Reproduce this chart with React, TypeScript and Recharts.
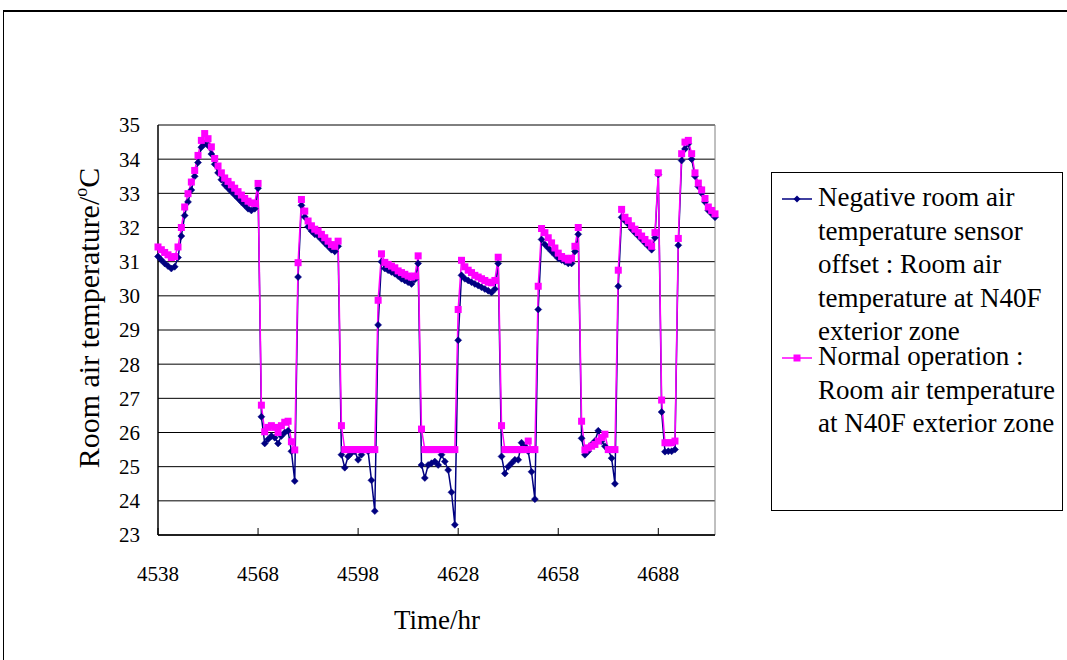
import React from 'react';
import { LineChart, Line, XAxis, YAxis, CartesianGrid, ReferenceLine, Label } from 'recharts';

const FONT = '"Liberation Serif", "DejaVu Serif", serif';

// hourly readings, first reading at hour 4538
const startHour = 4538;

const normalOperation = [
  31.43, 31.35, 31.27, 31.2, 31.12, 31.15, 31.43, 32.0, 32.6, 32.99,
  33.33, 33.67, 34.11, 34.55, 34.75, 34.6, 34.36, 34.02, 33.8, 33.6,
  33.45, 33.35, 33.25, 33.15, 33.05, 32.95, 32.85, 32.77, 32.72, 32.7,
  33.29, 26.8, 26.02, 26.15, 26.2, 26.15, 26.0, 26.2, 26.3, 26.33,
  25.73, 25.49, 30.97, 32.82, 32.48, 32.19, 32.05, 31.95, 31.9, 31.8,
  31.7, 31.6, 31.5, 31.45, 31.6, 26.2, 25.5, 25.5, 25.5, 25.5,
  25.5, 25.5, 25.5, 25.5, 25.5, 25.5, 29.87, 31.23, 30.98, 30.92,
  30.87, 30.82, 30.73, 30.68, 30.63, 30.58, 30.55, 30.58, 31.17, 26.1,
  25.5, 25.5, 25.5, 25.5, 25.5, 25.5, 25.5, 25.5, 25.5, 25.5,
  29.6, 31.04, 30.85, 30.75, 30.68, 30.6, 30.55, 30.5, 30.45, 30.4,
  30.38, 30.45, 31.13, 26.2, 25.5, 25.5, 25.5, 25.5, 25.5, 25.5,
  25.5, 25.75, 25.5, 25.5, 30.28, 31.97, 31.85, 31.7, 31.55, 31.4,
  31.25, 31.15, 31.1, 31.05, 31.1, 31.45, 32.0, 26.33, 25.49, 25.55,
  25.6, 25.65, 25.75, 25.85, 25.95, 25.5, 25.5, 25.5, 30.75, 32.53,
  32.3, 32.2, 32.05, 31.95, 31.85, 31.75, 31.65, 31.55, 31.45, 31.85,
  33.6, 26.95, 25.7, 25.7, 25.7, 25.75, 31.68, 34.16, 34.5, 34.55,
  34.16, 33.6, 33.3, 33.1, 32.85, 32.6, 32.5, 32.4,
];

const negativeOffset = [
  31.15, 31.05, 30.95, 30.87, 30.8, 30.85, 31.12, 31.75, 32.35, 32.75,
  33.1, 33.5, 33.9, 34.35, 34.45, 34.4, 34.15, 33.85, 33.6, 33.4,
  33.25, 33.15, 33.05, 32.95, 32.85, 32.75, 32.65, 32.55, 32.5, 32.55,
  33.15, 26.46, 25.68, 25.8, 25.9, 25.85, 25.68, 25.9, 26.0, 26.05,
  25.45, 24.58, 30.55, 32.65, 32.31, 32.02, 31.9, 31.8, 31.75, 31.65,
  31.55, 31.45, 31.35, 31.3, 31.45, 25.35, 24.97, 25.3, 25.4, 25.45,
  25.2, 25.35, 25.5, 25.45, 24.6, 23.7, 29.15, 31.0, 30.8, 30.75,
  30.7, 30.65, 30.58, 30.5, 30.45, 30.4, 30.35, 30.48, 30.95, 25.05,
  24.67, 25.05, 25.1, 25.15, 25.05, 25.35, 25.15, 24.9, 24.25, 23.3,
  28.7, 30.6, 30.5, 30.45, 30.4, 30.35, 30.3, 30.25, 30.2, 30.15,
  30.1, 30.2, 30.95, 25.3, 24.8, 25.0, 25.1, 25.2, 25.2, 25.7,
  25.6, 25.45, 24.85, 24.05, 29.6, 31.65, 31.5, 31.4, 31.3, 31.2,
  31.1, 31.05, 31.0, 30.95, 30.95, 31.3, 31.8, 25.83, 25.35, 25.45,
  25.65, 25.75, 26.05, 25.75, 25.6, 25.5, 25.25, 24.5, 30.28, 32.3,
  32.2, 32.1, 31.95, 31.85, 31.75, 31.65, 31.55, 31.45, 31.35, 31.7,
  33.55, 26.6, 25.44, 25.45, 25.45, 25.5, 31.48, 33.96, 34.3, 34.45,
  34.0, 33.5, 33.2, 33.0, 32.75, 32.5, 32.4, 32.3,
];

const xTicks = [4538, 4568, 4598, 4628, 4658, 4688];
const yTicks = [23, 24, 25, 26, 27, 28, 29, 30, 31, 32, 33, 34, 35];

const legendItems = [
  {
    color: '#000080',
    marker: 'diamond',
    lines: ['Negative room air', 'temperature sensor', 'offset : Room air', 'temperature at N40F', 'exterior zone'],
  },
  {
    color: '#FF00FF',
    marker: 'square',
    lines: ['Normal operation :', 'Room air temperature', 'at N40F exterior zone'],
  },
];

const data = normalOperation.map((v, i) => ({
  hour: startHour + i,
  normal: v,
  negative: negativeOffset[i],
}));

const Diamond = (props: any) => {
  const { cx, cy, index } = props;
  if (cx == null || cy == null) return null;
  const r = 3.5;
  return (
    <polygon
      key={`d-${index}`}
      points={`${cx},${cy - r} ${cx + r},${cy} ${cx},${cy + r} ${cx - r},${cy}`}
      fill="#000080"
      stroke="#000080"
      strokeWidth={0.5}
    />
  );
};

const Square = (props: any) => {
  const { cx, cy, index } = props;
  if (cx == null || cy == null) return null;
  return <rect key={`s-${index}`} x={cx - 3.5} y={cy - 3.5} width={7} height={7} fill="#FF00FF" />;
};

// tick marks point up into the plot, label sits below
const XTick = (props: any) => {
  const { x, y, payload } = props;
  return (
    <g>
      <line x1={x} x2={x} y1={y} y2={y - 7} stroke="#000" strokeWidth={1} />
      <text x={x} y={y + 46} textAnchor="middle" fontSize={21} fontFamily={FONT} fill="#000">
        {payload.value}
      </text>
    </g>
  );
};

const LegendBox = () => (
  <div
    style={{
      position: 'absolute',
      left: 771,
      top: 172,
      width: 290,
      height: 337,
      border: '1px solid #000',
      background: '#fff',
      fontFamily: FONT,
      fontSize: 27,
      lineHeight: '33.5px',
      color: '#000',
    }}
  >
    {legendItems.map((item, k) => (
      <div key={k} style={{ position: 'absolute', left: 8, top: k === 0 ? 8 : 167, display: 'flex' }}>
        <svg width={36} height={34} style={{ flex: 'none' }}>
          <line x1={2} x2={32} y1={18} y2={18} stroke={item.color} strokeWidth={1.5} />
          {item.marker === 'diamond' ? (
            <polygon points="17,14.5 20.5,18 17,21.5 13.5,18" fill={item.color} />
          ) : (
            <rect x={13.5} y={14.5} width={7} height={7} fill={item.color} />
          )}
        </svg>
        <div style={{ marginLeft: 2, whiteSpace: 'nowrap' }}>
          {item.lines.map((l, j) => (
            <div key={j}>{l}</div>
          ))}
        </div>
      </div>
    ))}
  </div>
);

export default function App() {
  return (
    <div style={{ position: 'absolute', left: 0, top: 0, width: 1067, height: 660, background: '#fff', overflow: 'hidden' }}>
      <div
        style={{
          position: 'absolute',
          left: 3,
          top: 10,
          width: 1100,
          height: 700,
          borderTop: '2px solid #000',
          borderLeft: '1px solid #000',
        }}
      />
      <div style={{ position: 'absolute', left: 0, top: 0 }}>
        <LineChart
          width={1067}
          height={660}
          data={data}
          margin={{ top: 125, right: 352, bottom: 45, left: 98 }}
        >
          <CartesianGrid horizontal vertical={false} stroke="#000" strokeWidth={1} />
          <XAxis
            dataKey="hour"
            type="number"
            domain={[4538, 4705]}
            ticks={xTicks}
            interval={0}
            height={80}
            axisLine={{ stroke: '#000', strokeWidth: 1.5 }}
            tickLine={false}
            tickSize={0}
            tickMargin={0}
            tick={<XTick />}
          >
            <Label
              content={() => (
                <text x={437} y={629} textAnchor="middle" fontSize={27} fontFamily={FONT} fill="#000">
                  Time/hr
                </text>
              )}
            />
          </XAxis>
          <YAxis
            type="number"
            domain={[23, 35]}
            ticks={yTicks}
            interval={0}
            width={60}
            axisLine={{ stroke: '#000', strokeWidth: 1.5 }}
            tickLine={false}
            tickSize={0}
            tickMargin={18}
            tick={{ fontSize: 21, fill: '#000', fontFamily: FONT }}
          >
            <Label
              content={() => (
                <text
                  x={99}
                  y={318}
                  transform="rotate(-90 99 318)"
                  textAnchor="middle"
                  fontSize={30}
                  fontFamily={FONT}
                  fill="#000"
                >
                  Room air temperature/
                  <tspan dy={-12} fontSize={18}>o</tspan>
                  <tspan dy={12}>C</tspan>
                </text>
              )}
            />
          </YAxis>
          <ReferenceLine x={4705} stroke="#808080" strokeWidth={1} />
          <ReferenceLine y={35} stroke="#808080" strokeWidth={1} />
          <Line
            type="linear"
            dataKey="negative"
            stroke="#000080"
            strokeWidth={1.5}
            dot={<Diamond />}
            activeDot={false}
            isAnimationActive={false}
          />
          <Line
            type="linear"
            dataKey="normal"
            stroke="#FF00FF"
            strokeWidth={1.5}
            dot={<Square />}
            activeDot={false}
            isAnimationActive={false}
          />
        </LineChart>
      </div>
      <LegendBox />
    </div>
  );
}
